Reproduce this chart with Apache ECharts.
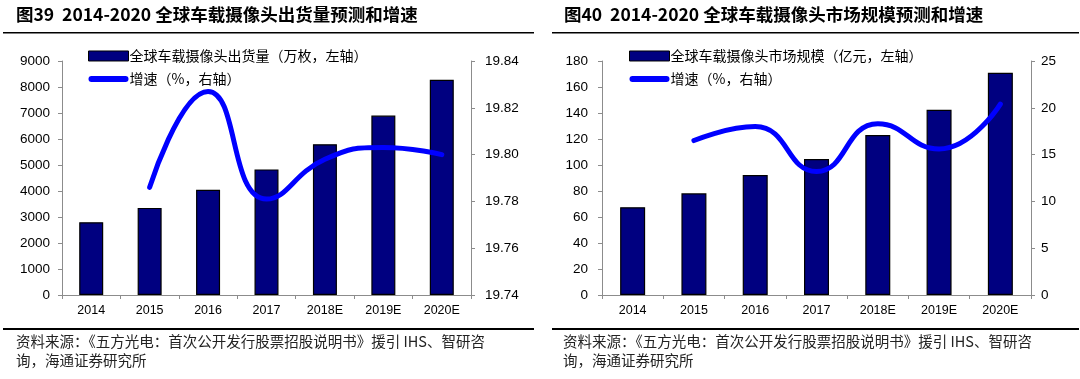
<!DOCTYPE html>
<html>
<head>
<meta charset="utf-8">
<style>
html,body{margin:0;padding:0;background:#fff;}
#c{width:1080px;height:379px;}
</style>
<script src="https://cdn.jsdelivr.net/npm/echarts@6/dist/echarts.min.js"></script>
</head>
<body>
<div id="c"></div>
<script>
const categories = ['2014','2015','2016','2017','2018E','2019E','2020E'];
const shipments = [2800, 3350, 4050, 4830, 5800, 6900, 8280];
const shipmentGrowth = ['-', 19.786, 19.827, 19.781, 19.798, 19.803, 19.800];
const marketSize = [67.5, 78.2, 92.3, 104.6, 123, 142.5, 171];
const marketGrowth = ['-', 16.5, 18.0, 13.2, 18.3, 15.6, 20.4];

const title1 = '图39  2014-2020 全球车载摄像头出货量预测和增速';
const title2 = '图40  2014-2020 全球车载摄像头市场规模预测和增速';
const barName1 = '全球车载摄像头出货量（万枚，左轴）';
const barName2 = '全球车载摄像头市场规模（亿元，左轴）';
const lineName = '增速（%，右轴）';
const source1 = '资料来源：《五方光电：首次公开发行股票招股说明书》援引 IHS、智研咨';
const source2 = '询，海通证券研究所';

const cjk = '"Noto Sans CJK SC", sans-serif';
const latin = '"Liberation Sans", Arial, sans-serif';
const axisColor = '#8c8c8c';

function xAx(gi){
  return {
    type:'category', gridIndex:gi, data:categories,
    axisLine:{lineStyle:{color:axisColor,width:1}},
    axisTick:{show:true,length:4,lineStyle:{color:axisColor}},
    axisLabel:{color:'#000',fontFamily:latin,fontSize:12.5,margin:9}
  };
}
function yAx(gi,pos,min,max,interval,dec,margin){
  return {
    type:'value', gridIndex:gi, position:pos, min:min, max:max, interval:interval,
    splitLine:{show:false},
    axisLine:{show:true,lineStyle:{color:axisColor,width:1}},
    axisTick:{show:true,length:4,lineStyle:{color:axisColor}},
    axisLabel:{color:'#000',fontFamily:latin,fontSize:13.5,margin:margin,
      formatter:function(v){return dec?v.toFixed(dec):String(Math.round(v));}}
  };
}
const barStyle = {color:'#000080',borderColor:'#000',borderWidth:1.2};
const lineStyle = {color:'#0000ff',width:5,cap:'round'};
const legendText = {fontFamily:cjk,fontSize:14,color:'#000',padding:[0,0,0,-4]};
const lineIcon = 'path://M3,0 L37,0 A3,3 0 0 1 37,6 L3,6 A3,3 0 0 1 3,0 Z';

const chart = echarts.init(document.getElementById('c'),null,{renderer:'canvas'});
chart.setOption({
  animation:false,
  backgroundColor:'#fff',
  grid:[
    {left:62,right:609,top:61,bottom:84},
    {left:602,right:49,top:61,bottom:84}
  ],
  xAxis:[xAx(0),xAx(1)],
  yAxis:[
    yAx(0,'left',0,9000,1000,0,12),
    yAx(0,'right',19.74,19.84,0.02,2,14),
    yAx(1,'left',0,180,20,0,14),
    yAx(1,'right',0,25,5,0,10)
  ],
  legend:[
    {left:83,top:44,orient:'vertical',itemWidth:40,itemHeight:10,itemGap:9,
     textStyle:legendText,
     data:[{name:barName1,icon:'rect',itemStyle:{borderColor:'#000',borderWidth:1}},
           {name:lineName+' ',icon:lineIcon,itemStyle:{color:'#0000ff',borderWidth:0}}]},
    {left:624,top:44,orient:'vertical',itemWidth:40,itemHeight:10,itemGap:9,
     textStyle:legendText,
     data:[{name:barName2,icon:'rect',itemStyle:{borderColor:'#000',borderWidth:1}},
           {name:lineName,icon:lineIcon,itemStyle:{color:'#0000ff',borderWidth:0}}]}
  ],
  series:[
    {name:barName1,type:'bar',xAxisIndex:0,yAxisIndex:0,data:shipments,barWidth:24,itemStyle:barStyle},
    {name:lineName+' ',type:'line',xAxisIndex:0,yAxisIndex:1,data:shipmentGrowth,smooth:0.5,
     symbol:'none',lineStyle:lineStyle,itemStyle:{color:'#0000ff'}},
    {name:barName2,type:'bar',xAxisIndex:1,yAxisIndex:2,data:marketSize,barWidth:25,itemStyle:barStyle},
    {name:lineName,type:'line',xAxisIndex:1,yAxisIndex:3,data:marketGrowth,smooth:0.5,
     symbol:'none',lineStyle:lineStyle,itemStyle:{color:'#0000ff'}}
  ],
  graphic:[
    {type:'text',left:16,top:6,style:{text:title1,font:'bold 17.5px '+cjk,fill:'#000'}},
    {type:'text',left:564,top:6,style:{text:title2,font:'bold 17.5px '+cjk,fill:'#000'}},
    {type:'rect',shape:{x:3,y:32,width:531,height:1.5},style:{fill:'#000'}},
    {type:'rect',shape:{x:552,y:32,width:527,height:1.5},style:{fill:'#000'}},
    {type:'rect',shape:{x:3,y:328,width:531,height:2},style:{fill:'#000'}},
    {type:'rect',shape:{x:552,y:328,width:527,height:2},style:{fill:'#000'}},
    {type:'text',left:16,top:334,style:{text:source1,font:'14.5px '+cjk,fill:'#222'}},
    {type:'text',left:16,top:353,style:{text:source2,font:'14.5px '+cjk,fill:'#222'}},
    {type:'text',left:563,top:334,style:{text:source1,font:'14.5px '+cjk,fill:'#222'}},
    {type:'text',left:563,top:353,style:{text:source2,font:'14.5px '+cjk,fill:'#222'}}
  ]
});
</script>
</body>
</html>
